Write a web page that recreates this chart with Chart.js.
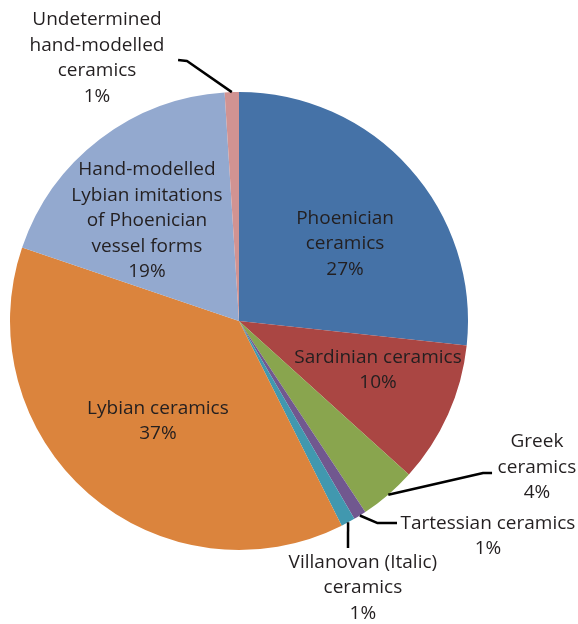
<!DOCTYPE html>
<html>
<head>
<meta charset="utf-8">
<script src="https://cdn.jsdelivr.net/npm/chart.js@4"></script>
<style>
  html, body { margin: 0; padding: 0; background: #ffffff; }
  #chart { display: block; }
</style>
</head>
<body>
<canvas id="chart" width="578" height="624"></canvas>
<script>
// 데이터 (그림에서 읽은 값, %)
const categories = [
    ['Phoenician', 'ceramics'],
    ['Sardinian ceramics'],
    ['Greek', 'ceramics'],
    ['Tartessian ceramics'],
    ['Villanovan (Italic)', 'ceramics'],
    ['Lybian ceramics'],
    ['Hand-modelled', 'Lybian imitations', 'of Phoenician', 'vessel forms'],
    ['Undetermined', 'hand-modelled', 'ceramics']
];
const shares = [26.7, 10.0, 4.0, 0.9, 1.0, 37.6, 18.8, 1.0];
const shareLabels = ['27%', '10%', '4%', '1%', '1%', '37%', '19%', '1%'];

const colors = ['#4572A7', '#AA4643', '#89A54E', '#71588F', '#4198AF', '#DB843D', '#93A9CF', '#D19392'];

// 라벨 위치 (반지름 기준 비율, 파이 중심 기준)
const labelPos = [
    [0.463, -0.336], [0.607, 0.214], [1.301, 0.638], [1.087, 0.939],
    [0.541, 1.166], [-0.354, 0.437], [-0.402, -0.437], [-0.620, -1.148]
];
// 지시선 (꺾이는 점, 끝점) - 없으면 null
const leaders = [
    null, null,
    [[1.066, 0.664], [1.105, 0.664]],
    [[0.603, 0.882], [0.690, 0.882]],
    [[0.476, 0.991], [0.476, 0.991]],
    null, null,
    [[-0.227, -1.135], [-0.266, -1.140]]
];

const FONT = '19px "Open Sans", sans-serif';
const LINE_H = 25.5;

// 라벨과 지시선을 그리는 플러그인
const pieLabels = {
    id: 'pieLabels',
    afterDatasetsDraw(chart) {
        const ctx = chart.ctx;
        const arcs = chart.getDatasetMeta(0).data;
        ctx.save();
        arcs.forEach((arc, i) => {
            const cx = arc.x, cy = arc.y, r = arc.outerRadius;
            const mid = (arc.startAngle + arc.endAngle) / 2;
            if (leaders[i]) {
                ctx.strokeStyle = '#000000';
                ctx.lineWidth = 2.5;
                ctx.lineJoin = 'round';
                ctx.beginPath();
                ctx.moveTo(cx + Math.cos(mid) * r, cy + Math.sin(mid) * r);
                leaders[i].forEach(p => ctx.lineTo(cx + p[0] * r, cy + p[1] * r));
                ctx.stroke();
            }
            const lines = categories[i].concat([shareLabels[i]]);
            const lx = cx + labelPos[i][0] * r;
            const ly = cy + labelPos[i][1] * r - (lines.length - 1) * LINE_H / 2;
            ctx.font = FONT;
            ctx.fillStyle = '#231f20';
            ctx.textAlign = 'center';
            ctx.textBaseline = 'middle';
            lines.forEach((t, k) => ctx.fillText(t, lx, ly + k * LINE_H));
        });
        ctx.restore();
    }
};

new Chart(document.getElementById('chart'), {
    type: 'pie',
    data: {
        labels: categories.map(c => c.join(' ')),
        datasets: [{
            data: shares,
            backgroundColor: colors,
            borderWidth: 0
        }]
    },
    options: {
        responsive: false,
        animation: false,
        layout: { padding: { left: 10, top: 92, right: 110, bottom: 74 } },
        plugins: {
            legend: { display: false },
            tooltip: { enabled: false }
        }
    },
    plugins: [pieLabels]
});
</script>
</body>
</html>
